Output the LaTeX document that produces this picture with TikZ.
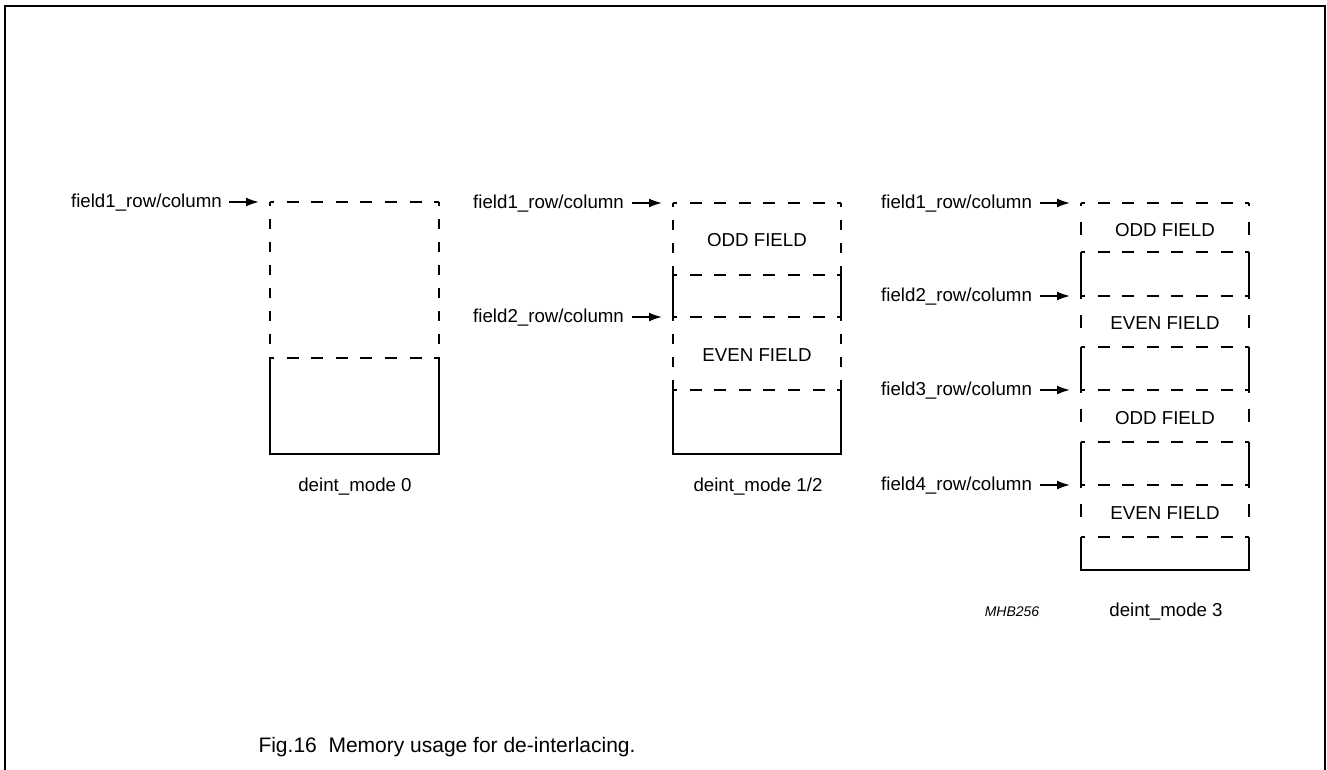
\documentclass[tikz,border=0pt]{standalone}
\usepackage{fontspec}
\setmainfont{Liberation Sans}
\usetikzlibrary{arrows.meta}
\tikzset{
  ln/.style={line width=2.5pt, line cap=butt},
  hd/.style={ln, dash pattern=on 12pt off 12.6pt, dash phase=8pt},
  vd/.style={ln, dash pattern=on 10pt off 13pt, dash phase=6pt},
  vdc/.style={ln, dash pattern=on 3pt off 16pt on 13pt off 60pt},
  lbl/.style={font=\fontsize{18.7}{22}\selectfont, inner sep=0pt},
  arr/.style={line width=1.8pt, -{Latex[length=13pt,width=9pt]}},
}
\begin{document}
\begin{tikzpicture}[x=1pt,y=-1pt]
\useasboundingbox (0,0) rectangle (1327,769);
% frame
\draw[line width=2.2pt] (5,780) -- (5,6) -- (1325,6) -- (1325,780);

% ---------- box 1 : deint_mode 0 ----------
\draw[hd] (270,202) -- (439,202);
\draw[hd] (270,358) -- (439,358);
\draw[vd] (270,202) -- (270,358);
\draw[vd] (439,202) -- (439,358);
\draw[ln] (270,358) -- (270,454) -- (439,454) -- (439,358);
\node[lbl, anchor=base east] (b1f1) at (222,207) {field1\_row/column};
\coordinate (b1p1) at (259,202);
\draw[arr] ([xshift=7pt,yshift=5pt]b1f1.base east) -- (b1p1);
\node[lbl, anchor=base] (m0) at (355,491) {deint\_mode 0};

% ---------- box 2 : deint_mode 1/2 ----------
\draw[hd] (673,203) -- (841,203);
\draw[hd] (673,275) -- (841,275);
\draw[hd] (673,317) -- (841,317);
\draw[hd] (673,390) -- (841,390);
\draw[vd] (673,203) -- (673,275);
\draw[vd] (841,203) -- (841,275);
\draw[ln] (673,275) -- (673,317);
\draw[ln] (841,275) -- (841,317);
\draw[vd] (673,317) -- (673,390);
\draw[vd] (841,317) -- (841,390);
\draw[ln] (673,390) -- (673,454) -- (841,454) -- (841,390);
\node[lbl] (o2) at (757,240) {ODD FIELD};
\node[lbl] (e2) at (757,355) {EVEN FIELD};
\node[lbl, anchor=base west] (b2f1) at (473,208) {field1\_row/column};
\node[lbl, anchor=base west] (b2f2) at (473,322) {field2\_row/column};
\coordinate (b2p1) at (662,203);
\coordinate (b2p2) at (662,317);
\draw[arr] ([xshift=8pt,yshift=5pt]b2f1.base east) -- (b2p1);
\draw[arr] ([xshift=8pt,yshift=5pt]b2f2.base east) -- (b2p2);
\node[lbl, anchor=base] (m12) at (758,491) {deint\_mode 1/2};

% ---------- box 3 : deint_mode 3 ----------
\foreach \y in {203,252,296,347,390,442,485,537}{
  \draw[hd] (1081,\y) -- (1249,\y);
}
\foreach \a/\b in {203/252,296/347,390/442,485/537}{
  \draw[vdc] (1081,\a) -- (1081,\b);
  \draw[vdc] (1249,\a) -- (1249,\b);
}
\foreach \a/\b in {252/296,347/390,442/485}{
  \draw[ln] (1081,\a) -- (1081,\b);
  \draw[ln] (1249,\a) -- (1249,\b);
}
\draw[ln] (1081,537) -- (1081,570) -- (1249,570) -- (1249,537);
\node[lbl] (o31) at (1165,230) {ODD FIELD};
\node[lbl] (e31) at (1165,323) {EVEN FIELD};
\node[lbl] (o32) at (1165,418) {ODD FIELD};
\node[lbl] (e32) at (1165,513) {EVEN FIELD};
\node[lbl, anchor=base west] (b3f1) at (881,208) {field1\_row/column};
\node[lbl, anchor=base west] (b3f2) at (881,301) {field2\_row/column};
\node[lbl, anchor=base west] (b3f3) at (881,395) {field3\_row/column};
\node[lbl, anchor=base west] (b3f4) at (881,490) {field4\_row/column};
\coordinate (b3p1) at (1070,203);
\coordinate (b3p2) at (1070,296);
\coordinate (b3p3) at (1070,390);
\coordinate (b3p4) at (1070,485);
\draw[arr] ([xshift=8pt,yshift=5pt]b3f1.base east) -- (b3p1);
\draw[arr] ([xshift=8pt,yshift=5pt]b3f2.base east) -- (b3p2);
\draw[arr] ([xshift=8pt,yshift=5pt]b3f3.base east) -- (b3p3);
\draw[arr] ([xshift=8pt,yshift=5pt]b3f4.base east) -- (b3p4);
\node[lbl, anchor=base] (m3) at (1166,616) {deint\_mode 3};
\node[inner sep=0pt, anchor=base, font=\fontsize{14}{16}\selectfont\itshape] (mhb) at (1012,616) {MHB256};

% caption
\node[inner sep=0pt, anchor=base, font=\fontsize{21}{24}\selectfont] (cap) at (447,752) {Fig.16\ \ Memory usage for de-interlacing.};
\end{tikzpicture}
\end{document}
